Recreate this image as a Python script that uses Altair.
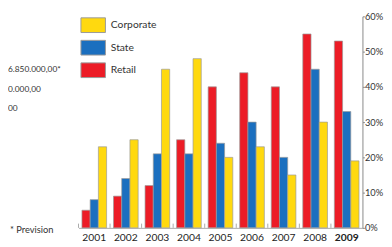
import altair as alt
import pandas as pd

years = ["2001", "2002", "2003", "2004", "2005", "2006", "2007", "2008", "2009"]
retail = [5, 9, 12, 25, 40, 44, 40, 55, 53]
state = [8, 14, 21, 21, 24, 30, 20, 45, 33]
corporate = [23, 25, 45, 48, 20, 23, 15, 30, 19]
series_legend = ["Corporate", "State", "Retail"]
series_bars = ["Retail", "State", "Corporate"]
colors = ["#FFD90F", "#1B6FBF", "#EC1C26"]
y_ticks = [0, 10, 20, 30, 40, 50, 60]
side_lines = ["6.850.000,00*", "0.000,00", "00"]
note = "* Prevision"

rows = []
for i, y in enumerate(years):
    rows.append({"year": y, "series": "Retail", "value": retail[i]})
    rows.append({"year": y, "series": "State", "value": state[i]})
    rows.append({"year": y, "series": "Corporate", "value": corporate[i]})
df = pd.DataFrame(rows)
yd = pd.DataFrame({"year": years})

FONT = "Lato"

xaxis = alt.Axis(
    domainColor="#aaaaaa",
    domainWidth=1,
    ticks=False,
    tickSize=0,
    labelPadding=5,
    labelAngle=0,
    labelFont=FONT,
    labelFontSize=10.5,
    labelColor="#222222",
    labelFontWeight=alt.expr("datum.value == '2009' ? 'bold' : 'normal'"),
    grid=False,
)
xscale = alt.Scale(paddingInner=0, paddingOuter=0)

yscale = alt.Scale(domain=[0, 60], nice=False)
yaxis = alt.Axis(
    orient="right",
    values=y_ticks,
    labelExpr="datum.value + '%'",
    labelOverlap=False,
    labelFlush=False,
    domainColor="#888888",
    tickColor="#888888",
    tickSize=2,
    labelPadding=0,
    labelFont=FONT,
    labelFontSize=9.5,
    labelColor="#333333",
    grid=False,
)

bars = alt.Chart(df).mark_bar(stroke="#9a9a9a", strokeWidth=0.7).encode(
    x=alt.X("year:N", sort=years, title=None, scale=xscale, axis=xaxis),
    xOffset=alt.XOffset(
        "series:N",
        sort=series_bars,
        scale=alt.Scale(paddingInner=0, paddingOuter=0.42),
    ),
    y=alt.Y("value:Q", scale=yscale, title=None, axis=yaxis),
    color=alt.Color(
        "series:N",
        scale=alt.Scale(domain=series_legend, range=colors),
        legend=alt.Legend(
            title=None,
            orient="none",
            legendX=2,
            legendY=-4,
            symbolType="M-1,-0.6H1V0.6H-1Z",
            symbolSize=625,
            symbolStrokeColor="#9a9a9a",
            symbolStrokeWidth=1,
            symbolOpacity=1,
            rowPadding=0,
            labelOffset=5,
            labelFont=FONT,
            labelFontSize=10.5,
            labelColor="#333333",
            padding=0,
        ),
    ),
)

ticks = alt.Chart(yd).mark_rule(color="#aaaaaa", strokeWidth=1).encode(
    x=alt.X("year:N", sort=years, bandPosition=0, title=None, scale=xscale, axis=xaxis),
    y=alt.YDatum(0, scale=yscale, axis=yaxis),
    y2=alt.datum(1.2),
)

layers = [bars, ticks]
line_y = [54, 74, 94]
for txt, yy in zip(side_lines, line_y):
    layers.append(
        alt.Chart(pd.DataFrame({"t": [txt]})).mark_text(
            align="left", baseline="middle", font=FONT, fontSize=8.5, color="#333333"
        ).encode(x=alt.value(-72), y=alt.value(yy), text="t:N")
    )
layers.append(
    alt.Chart(pd.DataFrame({"t": [note]})).mark_text(
        align="left", baseline="middle", font=FONT, fontSize=9.5, color="#333333"
    ).encode(x=alt.value(-70), y=alt.value(218), text="t:N")
)

chart = alt.layer(*layers).properties(
    width=290,
    height=216,
    autosize=alt.AutoSizeParams(type="none"),
    padding={"left": 72, "top": 6, "right": 22, "bottom": 17},
).configure_view(stroke=None)

chart.save("out.html", embed_options={"renderer": "svg", "actions": False})
